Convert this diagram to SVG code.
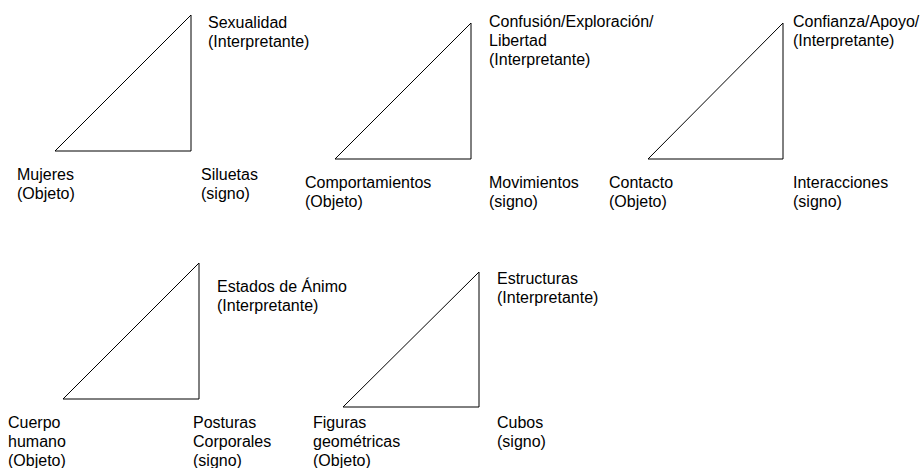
<svg xmlns="http://www.w3.org/2000/svg" width="923" height="468" viewBox="0 0 923 468">
<style>
text{font-family:"Liberation Sans",Arial,sans-serif;font-size:16px;fill:#000}
.tri{fill:#fff;stroke:#000;stroke-width:1}
</style>
<rect width="923" height="468" fill="#fff"/>
<g id="connectors">
<polygon class="tri" points="191,15 55,151 191,151"/>
<polygon class="tri" points="471,23 335,159 471,159"/>
<polygon class="tri" points="783,23 648,159 783,159"/>
<polygon class="tri" points="199,263 63,399 199,399"/>
<polygon class="tri" points="479,272 343,407 479,407"/>
</g>
<g id="t1-interp"><text x="208" y="28">Sexualidad</text><text x="208" y="47">(Interpretante)</text></g>
<g id="t1-obj"><text x="17" y="180">Mujeres</text><text x="17" y="199">(Objeto)</text></g>
<g id="t1-sign"><text x="201" y="180">Siluetas</text><text x="201" y="199">(signo)</text></g>
<g id="t2-interp"><text x="489" y="27">Confusión/Exploración/</text><text x="489" y="46">Libertad</text><text x="489" y="65">(Interpretante)</text></g>
<g id="t2-obj"><text x="305" y="188">Comportamientos</text><text x="305" y="207">(Objeto)</text></g>
<g id="t2-sign"><text x="489" y="188">Movimientos</text><text x="489" y="207">(signo)</text></g>
<g id="t3-interp"><text x="793" y="27">Confianza/Apoyo/</text><text x="793" y="46">(Interpretante)</text></g>
<g id="t3-obj"><text x="609" y="188">Contacto</text><text x="609" y="207">(Objeto)</text></g>
<g id="t3-sign"><text x="793" y="188">Interacciones</text><text x="793" y="207">(signo)</text></g>
<g id="t4-interp"><text x="217" y="292">Estados de Ánimo</text><text x="217" y="311">(Interpretante)</text></g>
<g id="t4-obj"><text x="8" y="428">Cuerpo</text><text x="8" y="447">humano</text><text x="8" y="466">(Objeto)</text></g>
<g id="t4-sign"><text x="193" y="428">Posturas</text><text x="193" y="447">Corporales</text><text x="193" y="466">(signo)</text></g>
<g id="t5-interp"><text x="497" y="284">Estructuras</text><text x="497" y="303">(Interpretante)</text></g>
<g id="t5-obj"><text x="313" y="428">Figuras</text><text x="313" y="447">geométricas</text><text x="313" y="466">(Objeto)</text></g>
<g id="t5-sign"><text x="497" y="428">Cubos</text><text x="497" y="447">(signo)</text></g>
</svg>
